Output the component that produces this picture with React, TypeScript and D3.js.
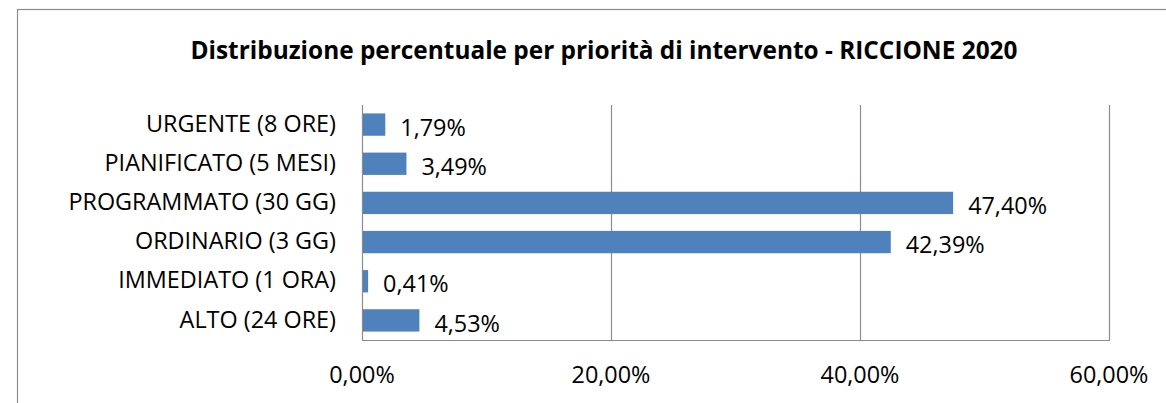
import * as d3 from "d3";
import { useEffect, useRef } from "react";

const categories = [
  "URGENTE (8 ORE)",
  "PIANIFICATO (5 MESI)",
  "PROGRAMMATO (30 GG)",
  "ORDINARIO (3 GG)",
  "IMMEDIATO (1 ORA)",
  "ALTO (24 ORE)",
];
const values = [1.79, 3.49, 47.4, 42.39, 0.41, 4.53];
const ticks = [0, 20, 40, 60];
const title = "Distribuzione percentuale per priorità di intervento - RICCIONE 2020";

const fmt = (v: number) => v.toFixed(2).replace(".", ",") + "%";

export default function App() {
  const ref = useRef<SVGSVGElement>(null);

  useEffect(() => {
    const width = 1166;
    const height = 403;
    const font = "'Open Sans', sans-serif";
    const fs = 23.4;

    const svg = d3.select(ref.current);
    svg.selectAll("*").remove();
    svg.attr("width", width).attr("height", height);

    svg.append("rect").attr("width", width).attr("height", height).attr("fill", "#fff");

    // chart frame (runs off the picture right and bottom)
    svg.append("rect")
      .attr("x", 17.5).attr("y", 9.5)
      .attr("width", 1300).attr("height", 500)
      .attr("fill", "none").attr("stroke", "#8c8c8c").attr("stroke-width", 1.2);

    const x = d3.scaleLinear().domain([0, 60]).range([362, 1109]);
    const y = d3.scaleBand<string>().domain(categories).range([105, 340]).paddingInner(0.43).paddingOuter(0.215);

    svg.append("text")
      .attr("x", 604).attr("y", 59)
      .attr("text-anchor", "middle")
      .attr("font-family", font).attr("font-weight", 700).attr("font-size", 24.4)
      .attr("fill", "#000")
      .text(title);

    // gridlines
    svg.selectAll("line.grid")
      .data(ticks.slice(1))
      .enter()
      .append("line")
      .attr("x1", d => x(d) + 0.5).attr("x2", d => x(d) + 0.5)
      .attr("y1", 105).attr("y2", 340)
      .attr("stroke", "#8c8c8c").attr("stroke-width", 1.2);

    // axes lines
    svg.append("line").attr("x1", 362.5).attr("x2", 362.5).attr("y1", 105).attr("y2", 340.5)
      .attr("stroke", "#8c8c8c").attr("stroke-width", 1.2);
    svg.append("line").attr("x1", 362).attr("x2", x(60) + 1).attr("y1", 340.5).attr("y2", 340.5)
      .attr("stroke", "#8c8c8c").attr("stroke-width", 1.2);

    svg.selectAll("rect.bar")
      .data(values)
      .enter()
      .append("rect")
      .attr("class", "bar")
      .attr("x", x(0) + 1)
      .attr("y", (_, i) => y(categories[i])!)
      .attr("width", d => x(d) - x(0))
      .attr("height", y.bandwidth())
      .attr("fill", "#4f81bd");

    svg.selectAll("text.val")
      .data(values)
      .enter()
      .append("text")
      .attr("x", d => x(d) + 16)
      .attr("y", (_, i) => y(categories[i])! + y.bandwidth() / 2 + 3)
      .attr("dy", "0.35em")
      .attr("font-family", font).attr("font-size", fs)
      .attr("fill", "#000")
      .text(d => fmt(d));

    svg.selectAll("text.cat")
      .data(categories)
      .enter()
      .append("text")
      .attr("x", 336)
      .attr("y", d => y(d)! + y.bandwidth() / 2 - 1)
      .attr("dy", "0.35em")
      .attr("text-anchor", "end")
      .attr("font-family", font).attr("font-size", fs)
      .attr("fill", "#000")
      .text(d => d);

    svg.selectAll("text.tick")
      .data(ticks)
      .enter()
      .append("text")
      .attr("x", d => x(d))
      .attr("y", 375)
      .attr("dy", "0.35em")
      .attr("text-anchor", "middle")
      .attr("font-family", font).attr("font-size", fs)
      .attr("fill", "#000")
      .text(d => fmt(d));
  }, []);

  return (
    <div style={{ position: "absolute", left: 0, top: 0 }}>
      <svg ref={ref} style={{ display: "block" }} />
    </div>
  );
}
